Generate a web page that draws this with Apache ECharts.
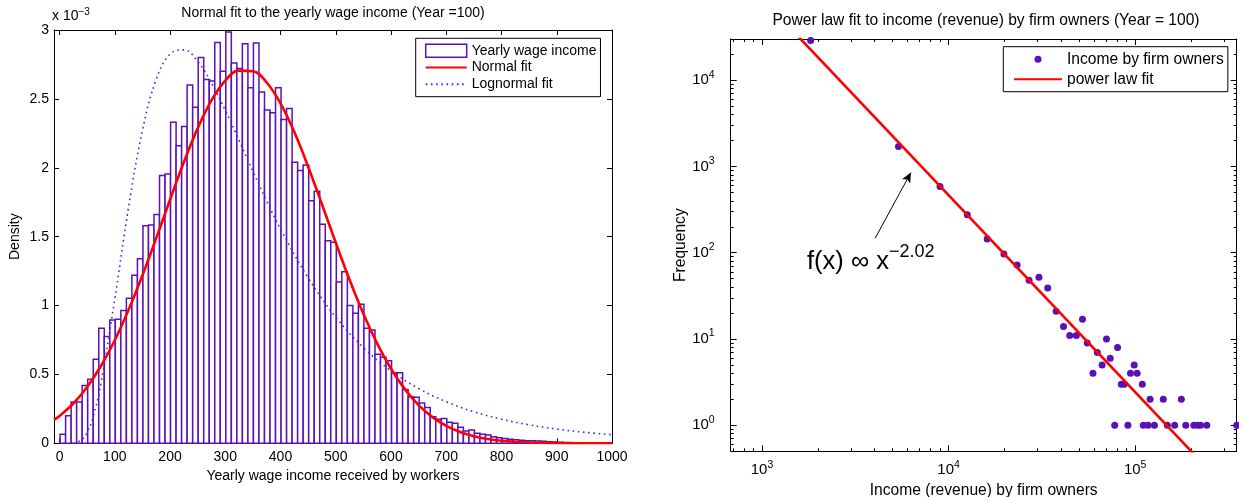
<!DOCTYPE html>
<html><head><meta charset="utf-8">
<script src="https://cdn.jsdelivr.net/npm/echarts@6/dist/echarts.min.js"></script>
<style>html,body{margin:0;padding:0;background:#fff}#c{width:1239px;height:497px}</style>
</head><body><div id="c"></div>
<script>
// ---------------- Left panel: histogram of yearly wage income ----------------
const wageBinStart = 1;      // left edge of first bin (wage units)
const wageBinWidth = 10;     // bin width (wage units)
// density per bin, in units of 1e-3
const wageDensityE3 = [
  0.065, 0.20, 0.30, 0.30, 0.42, 0.465, 0.61, 0.835, 0.775, 0.895,
  0.90, 0.964, 1.053, 1.22, 1.34, 1.58, 1.585, 1.66, 1.944, 1.954,
  2.33, 2.16, 2.30, 2.60, 2.44, 2.80, 2.64, 2.63, 2.91, 2.70,
  2.985, 2.76, 2.72, 2.90, 2.58, 2.905, 2.55, 2.42, 2.40, 2.58,
  2.35, 2.43, 2.04, 1.98, 2.02, 1.76, 1.83, 1.59, 1.47, 1.46,
  1.17, 1.245, 1.00, 0.944, 1.01, 0.835, 0.822, 0.646, 0.625, 0.60,
  0.513, 0.513, 0.39, 0.337, 0.334, 0.293, 0.26, 0.192, 0.174, 0.18,
  0.152, 0.145, 0.117, 0.09, 0.097, 0.073, 0.065, 0.06, 0.048, 0.04,
  0.034, 0.03, 0.025, 0.022, 0.019, 0.018, 0.016, 0.014, 0.012, 0.01,
  0.008, 0.006, 0.005, 0.004, 0.003
];
const normalFitX = [-10, 0, 25, 50, 75, 100, 125, 150, 175, 200, 225, 250, 275, 300, 325, 350, 375, 400, 425, 450, 475, 500, 525, 550, 575, 600, 625, 650, 675, 700, 725, 750, 775, 800, 850, 900, 950, 1000];
const normalFitE3 = [0.170, 0.199, 0.289, 0.409, 0.561, 0.748, 0.969, 1.218, 1.489, 1.768, 2.040, 2.286, 2.489, 2.633, 2.705, 2.701, 2.619, 2.468, 2.259, 2.008, 1.735, 1.456, 1.187, 0.940, 0.724, 0.541, 0.393, 0.277, 0.190, 0.127, 0.082, 0.051, 0.031, 0.019, 0.006, 0.002, 0.0004, 0.0001];
const lognormalFitX = [25, 40, 50, 60, 75, 100, 125, 150, 175, 200, 225, 250, 275, 300, 325, 350, 375, 400, 450, 500, 550, 600, 650, 700, 750, 800, 850, 900, 950, 1000];
const lognormalFitE3 = [0.001, 0.025, 0.079, 0.182, 0.435, 1.047, 1.714, 2.270, 2.641, 2.825, 2.856, 2.773, 2.616, 2.417, 2.198, 1.975, 1.759, 1.556, 1.201, 0.916, 0.695, 0.526, 0.398, 0.302, 0.229, 0.175, 0.134, 0.103, 0.080, 0.062];
const wageTicks = [0, 100, 200, 300, 400, 500, 600, 700, 800, 900, 1000];
const wageRange = [-10, 1000];
const densityRangeE3 = [0, 3];

// ---------------- Right panel: firm owners income, log-log ----------------
const firmIncome = [1824, 5390, 9000, 12600, 16100, 19800, 23300, 27000, 30500, 34000,
  37700, 41300, 44600, 48400, 52200, 55400, 59400, 62700, 66500, 70200,
  73500, 77700, 80500, 84300, 87400, 91400, 94400, 98800, 102500, 109200,
  110600, 117300, 120200, 126800, 141500, 148700, 162800, 176800, 186700, 206300,
  216900, 224000, 242000, 350000];
const firmFrequency = [28800, 1700, 585, 275, 144, 97, 72, 48, 52, 39,
  21, 14, 11, 11, 17, 9, 4, 7, 5, 10,
  6, 1, 8, 3, 3, 1, 4, 5, 4, 3,
  1, 1, 2, 1, 2, 1, 1, 2, 1, 1,
  1, 1, 1, 1];
const powerFitX = [1500, 250000];
const powerFitY = [35300, 0.30];
const arrowFrom = [4046, 147.6];
const arrowTo = [6281, 849];
const incomeRange = [680, 350000];
const frequencyRange = [0.5, 30000];

// ---------------- chart ----------------
const F = "'Liberation Sans', Arial, Helvetica, sans-serif";
const BLACK = '#000';
const PURPLE = '#5a12b8';
const chart = echarts.init(document.getElementById('c'), null, {renderer: 'canvas'});

const bins = wageDensityE3.map((h, i) => [wageBinStart + i * wageBinWidth, wageBinStart + (i + 1) * wageBinWidth, h]);
const normalData = normalFitX.map((x, i) => [x, normalFitE3[i]]);
const lognormalData = lognormalFitX.map((x, i) => [x, lognormalFitE3[i]]);
const firmData = firmIncome.map((x, i) => [x, firmFrequency[i]]);
const fitData = powerFitX.map((x, i) => [x, powerFitY[i]]);

function minorLogTicks(lo, hi) {
  const out = [];
  for (let e = Math.floor(Math.log10(lo)); e <= Math.ceil(Math.log10(hi)); e++) {
    for (let m = 2; m <= 9; m++) {
      const v = m * Math.pow(10, e);
      if (v > lo && v < hi) out.push(Math.log10(v));
    }
  }
  return out;
}

const lineBlack = {show: true, onZero: false, lineStyle: {color: BLACK, width: 1}};
const noLine = {show: false, onZero: false};
const tickIn = (len, custom) => {
  const t = {show: true, inside: true, length: len, lineStyle: {color: BLACK, width: 1}};
  if (custom) t.customValues = custom;
  return t;
};
const logLabel = (margin) => ({
  show: true, margin: margin, showMinLabel: false, showMaxLabel: false, hideOverlap: false,
  formatter: v => '{b|10}{s|' + Math.round(Math.log10(v)) + '}',
  rich: {
    b: {fontSize: 15, fontFamily: F, color: BLACK},
    s: {fontSize: 10.5, fontFamily: F, color: BLACK, padding: [0, 0, 11, 0]}
  }
});

const xMinor = minorLogTicks(incomeRange[0], incomeRange[1]);
const yMinor = minorLogTicks(frequencyRange[0], frequencyRange[1]);

const option = {
  animation: false,
  backgroundColor: '#fff',
  textStyle: {fontFamily: F, color: BLACK},
  title: [
    {text: 'Normal fit to the yearly wage income (Year =100)', left: 333, top: 6, textAlign: 'center', padding: 0,
      textStyle: {fontSize: 14, fontWeight: 'normal', fontFamily: F, color: BLACK}},
    {text: 'Power law fit to income (revenue) by firm owners (Year = 100)', left: 986, top: 13, textAlign: 'center', padding: 0,
      textStyle: {fontSize: 15.6, fontWeight: 'normal', fontFamily: F, color: BLACK}}
  ],
  grid: [
    {left: 54, top: 30, width: 558, height: 413.3, containLabel: false, outerBoundsMode: 'none'},
    {left: 730.7, top: 39, width: 506, height: 412.3, containLabel: false, outerBoundsMode: 'none'}
  ],
  legend: [
    {
      left: 415.7, top: 38.3, orient: 'vertical', padding: [5, 4, 5, 9],
      backgroundColor: '#fff', borderColor: BLACK, borderWidth: 1, borderRadius: 0,
      itemWidth: 41, itemHeight: 13, itemGap: 1.7, selectedMode: false,
      textStyle: {fontSize: 14, fontFamily: F, color: BLACK, lineHeight: 15},
      data: [
        {name: 'Yearly wage income', icon: 'rect', itemStyle: {color: '#fff', borderColor: PURPLE, borderWidth: 1.5}},
        {name: 'Normal fit', itemStyle: {opacity: 0}},
        {name: 'Lognormal fit', itemStyle: {opacity: 0}}
      ]
    },
    {
      left: 1003.3, top: 46.7, orient: 'vertical', padding: [4, 4, 4, 9.7],
      backgroundColor: '#fff', borderColor: BLACK, borderWidth: 1, borderRadius: 0,
      itemWidth: 48, itemHeight: 7, itemGap: 3, selectedMode: false,
      textStyle: {fontSize: 15.6, fontFamily: F, color: BLACK, lineHeight: 17},
      data: [
        {name: 'Income by firm owners', icon: 'circle', itemStyle: {opacity: 1}},
        {name: 'power law fit', itemStyle: {opacity: 0}}
      ]
    }
  ],
  xAxis: [
    { // 0: left bottom
      gridIndex: 0, type: 'value', position: 'bottom', min: wageRange[0], max: wageRange[1],
      axisLine: lineBlack, axisTick: tickIn(5, wageTicks), splitLine: {show: false},
      axisLabel: {customValues: wageTicks, fontSize: 14, fontFamily: F, color: BLACK, margin: 7, formatter: v => String(v)},
      name: 'Yearly wage income received by workers', nameLocation: 'middle', nameGap: 22,
      nameTextStyle: {fontSize: 14, fontFamily: F, color: BLACK}
    },
    { // 1: left top
      gridIndex: 0, type: 'value', position: 'top', min: wageRange[0], max: wageRange[1],
      axisLine: lineBlack, axisTick: tickIn(5, wageTicks), splitLine: {show: false},
      axisLabel: {show: false}
    },
    { // 2: right bottom (log, data)
      gridIndex: 1, type: 'log', logBase: 10, position: 'bottom', min: incomeRange[0], max: incomeRange[1],
      axisLine: lineBlack, axisTick: tickIn(6), splitLine: {show: false}, minorTick: {show: false},
      axisLabel: logLabel(8),
      name: 'Income (revenue) by firm owners', nameLocation: 'middle', nameGap: 29,
      nameTextStyle: {fontSize: 15.6, fontFamily: F, color: BLACK}
    },
    { // 3: right top (log)
      gridIndex: 1, type: 'log', logBase: 10, position: 'top', min: incomeRange[0], max: incomeRange[1],
      axisLine: lineBlack, axisTick: tickIn(6), splitLine: {show: false}, minorTick: {show: false},
      axisLabel: {show: false}
    },
    { // 4: right bottom minor ticks (log10 units)
      gridIndex: 1, type: 'value', position: 'bottom', min: Math.log10(incomeRange[0]), max: Math.log10(incomeRange[1]),
      axisLine: noLine, axisTick: tickIn(3, xMinor), splitLine: {show: false}, axisLabel: {show: false}
    },
    { // 5: right top minor ticks
      gridIndex: 1, type: 'value', position: 'top', min: Math.log10(incomeRange[0]), max: Math.log10(incomeRange[1]),
      axisLine: noLine, axisTick: tickIn(3, xMinor), splitLine: {show: false}, axisLabel: {show: false}
    }
  ],
  yAxis: [
    { // 0: left
      gridIndex: 0, type: 'value', position: 'left', min: densityRangeE3[0], max: densityRangeE3[1], interval: 0.5,
      axisLine: lineBlack, axisTick: tickIn(5), splitLine: {show: false},
      axisLabel: {fontSize: 14, fontFamily: F, color: BLACK, margin: 5},
      name: 'Density', nameLocation: 'middle', nameGap: 32,
      nameTextStyle: {fontSize: 14, fontFamily: F, color: BLACK}
    },
    { // 1: right side of left panel
      gridIndex: 0, type: 'value', position: 'right', min: densityRangeE3[0], max: densityRangeE3[1], interval: 0.5,
      axisLine: lineBlack, axisTick: tickIn(5), splitLine: {show: false}, axisLabel: {show: false}
    },
    { // 2: right panel left (log, data)
      gridIndex: 1, type: 'log', logBase: 10, position: 'left', min: frequencyRange[0], max: frequencyRange[1],
      axisLine: lineBlack, axisTick: tickIn(6), splitLine: {show: false}, minorTick: {show: false},
      axisLabel: logLabel(16),
      name: 'Frequency', nameLocation: 'middle', nameGap: 42,
      nameTextStyle: {fontSize: 15.6, fontFamily: F, color: BLACK}
    },
    { // 3: right panel right (log)
      gridIndex: 1, type: 'log', logBase: 10, position: 'right', min: frequencyRange[0], max: frequencyRange[1],
      axisLine: lineBlack, axisTick: tickIn(6), splitLine: {show: false}, minorTick: {show: false},
      axisLabel: {show: false}
    },
    { // 4: minor left
      gridIndex: 1, type: 'value', position: 'left', min: Math.log10(frequencyRange[0]), max: Math.log10(frequencyRange[1]),
      axisLine: noLine, axisTick: tickIn(3, yMinor), splitLine: {show: false}, axisLabel: {show: false}
    },
    { // 5: minor right
      gridIndex: 1, type: 'value', position: 'right', min: Math.log10(frequencyRange[0]), max: Math.log10(frequencyRange[1]),
      axisLine: noLine, axisTick: tickIn(3, yMinor), splitLine: {show: false}, axisLabel: {show: false}
    }
  ],
  series: [
    {
      name: 'Yearly wage income', type: 'custom', xAxisIndex: 0, yAxisIndex: 0,
      itemStyle: {color: '#fff', borderColor: PURPLE, borderWidth: 1.5},
      encode: {x: [0, 1], y: 2},
      data: bins,
      renderItem: (params, api) => {
        const p0 = api.coord([api.value(0), api.value(2)]);
        const p1 = api.coord([api.value(1), 0]);
        return {
          type: 'rect',
          shape: {x: p0[0], y: p0[1], width: p1[0] - p0[0], height: p1[1] - p0[1]},
          style: {fill: '#fff', stroke: PURPLE, lineWidth: 1.5}
        };
      }
    },
    {
      name: 'Lognormal fit', type: 'line', xAxisIndex: 0, yAxisIndex: 0, smooth: 0.4,
      symbol: 'none', data: lognormalData, clip: true,
      lineStyle: {color: '#2f2fff', width: 1.6, type: [1.6, 3.6]}, itemStyle: {color: '#2f2fff'}
    },
    {
      name: 'Normal fit', type: 'line', xAxisIndex: 0, yAxisIndex: 0, smooth: 0.4,
      symbol: 'none', data: normalData, clip: true,
      lineStyle: {color: '#ff0000', width: 2.6}, itemStyle: {color: '#ff0000'}
    },
    {
      name: 'Income by firm owners', type: 'scatter', xAxisIndex: 2, yAxisIndex: 2,
      symbol: 'circle', symbolSize: 7, data: firmData, clip: true,
      itemStyle: {color: '#5a10b4', opacity: 1}
    },
    {
      name: 'power law fit', type: 'line', xAxisIndex: 2, yAxisIndex: 2,
      symbol: 'none', data: fitData, clip: true,
      lineStyle: {color: '#ff0000', width: 2.6}, itemStyle: {color: '#ff0000'},
      markLine: {
        silent: true, symbol: ['none', 'arrow'], symbolSize: [7, 10],
        lineStyle: {color: BLACK, width: 1, type: 'solid'}, label: {show: false},
        data: [[{coord: arrowFrom}, {coord: arrowTo}]]
      }
    }
  ],
  graphic: [
    {
      type: 'text', left: 52, top: 7,
      style: {
        text: '{m|x 10}{s|\u22123}',
        rich: {
          m: {fontSize: 14, fontFamily: F, fill: BLACK, color: BLACK},
          s: {fontSize: 10, fontFamily: F, fill: BLACK, color: BLACK, padding: [0, 0, 9, 0]}
        }
      }
    },
    {
      type: 'text', left: 807, top: 243,
      style: {
        text: '{m|f(x) \u221e x}{s|\u22122.02}',
        rich: {
          m: {fontSize: 25.5, fontFamily: F, fill: BLACK, color: BLACK},
          s: {fontSize: 18, fontFamily: F, fill: BLACK, color: BLACK, padding: [0, 0, 19, 0]}
        }
      }
    }
  ]
};
chart.setOption(option);
</script>
</body></html>
